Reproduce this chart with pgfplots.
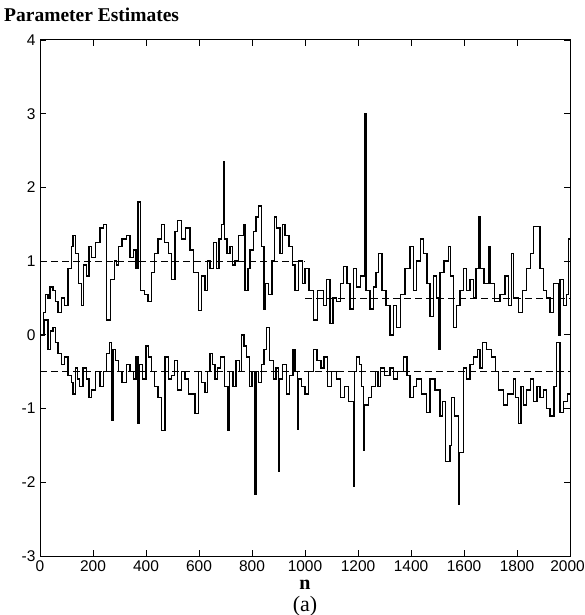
\documentclass[border=0pt]{standalone}
\usepackage{pgfplots}
\pgfplotsset{compat=1.18}
\usepackage{fontspec}
\setmainfont{Liberation Serif}
\newfontfamily\ticksans{Liberation Sans}
\begin{document}
\begin{tikzpicture}[x=1pt,y=1pt]
\useasboundingbox (-40,-59) rectangle (545,556);
\begin{axis}[
  at={(0,0)}, anchor=south west,
  scale only axis, width=530pt, height=516pt,
  xmin=0, xmax=2000, ymin=-3, ymax=4,
  xtick={0,200,...,2000},
  xticklabels={0,200,400,600,800,1000,1200,1400,1600,1800,2000\kern5pt},
  ytick={-3,-2,-1,0,1,2,3,4},
  yticklabels={-3,-2,-1,0,1,2,3,4},
  tick align=inside,
  major tick length=6pt,
  tick style={black, line width=0.8pt},
  axis line style={black, line width=1pt},
  ticklabel style={font=\ticksans\fontsize{15.5}{17}\selectfont},
  xticklabel style={yshift=-1pt},
  yticklabel style={xshift=-1pt},
  clip=true,
]
\addplot[const plot, black, line width=1.35pt] coordinates {
(0,0.0)(12,0.3)(20,0.55)(30,0.5)(38,0.65)(49,0.6)(58,0.45)(68,0.3)(80,0.5)(93,0.4)
(105,0.9)(118,1.2)(125,1.35)(133,1.1)(145,0.7)(156,0.4)(165,0.95)(175,0.8)(185,1.2)
(194,1.05)(210,1.25)(226,1.45)(240,1.5)(251,0.2)(265,0.75)(280,1.0)(288,0.95)(295,1.2)
(310,1.3)(326,1.35)(340,1.05)(352,1.15)(362,0.9)(370,1.8)(380,0.6)(395,0.55)(408,0.45)
(420,0.85)(433,1.1)(445,1.3)(459,1.5)(470,1.25)(484,1.1)(495,0.75)(509,1.4)(520,1.55)
(534,1.3)(548,1.45)(566,1.15)(580,0.85)(597,0.33)(610,0.8)(622,0.6)(632,1.0)(641,0.9)
(655,1.25)(667,0.9)(676,1.3)(686,1.5)(692,2.35)(696,1.3)(705,1.1)(717,1.2)(726,0.95)
(736,1.0)(750,1.35)(767,1.5)(774,0.6)(785,0.9)(793,1.15)(805,1.4)(815,1.6)(824,1.75)
(835,1.2)(845,0.35)(852,0.7)(862,0.55)(875,1.0)(885,1.6)(893,1.45)(905,1.1)(915,1.5)
(925,1.35)(940,1.2)(952,0.95)(962,0.6)(975,1.0)(990,0.7)(1000,0.9)(1015,0.6)(1032,0.2)
(1048,0.6)(1069,0.4)(1080,0.75)(1094,0.15)(1105,0.5)(1120,0.45)(1133,0.7)(1145,0.93)
(1158,0.7)(1170,0.35)(1182,0.9)(1195,0.65)(1210,0.8)(1226,3.0)(1230,0.6)(1245,0.35)
(1258,0.65)(1268,0.85)(1277,1.1)(1290,0.6)(1305,0.4)(1321,0.0)(1333,0.4)(1346,0.1)
(1360,0.55)(1377,0.9)(1396,1.2)(1409,0.6)(1421,1.0)(1435,1.3)(1447,1.1)(1460,0.7)
(1472,0.25)(1484,0.8)(1495,0.5)(1503,-0.2)(1510,0.85)(1525,1.0)(1541,1.2)(1550,0.8)
(1560,0.1)(1572,0.4)(1585,0.6)(1598,0.9)(1610,0.6)(1622,0.75)(1635,0.5)(1645,0.9)
(1654,1.6)(1660,0.9)(1675,0.7)(1692,1.2)(1698,0.7)(1715,0.45)(1736,0.55)(1755,0.8)
(1768,0.4)(1780,1.1)(1786,0.5)(1805,0.3)(1820,0.6)(1837,0.9)(1850,1.1)(1862,1.47)
(1887,0.9)(1900,0.6)(1912,0.5)(1925,0.3)(1937,0.7)(1956,0.0)(1962,0.75)(1975,0.4)
(1987,0.55)(1995,1.3)(2000,1.3)
};
\addplot[const plot, black, line width=1.35pt] coordinates {
(0,0.0)(15,0.2)(30,-0.2)(40,0.05)(49,0.1)(58,-0.1)(68,-0.25)(80,-0.4)(93,-0.3)(105,-0.55)
(118,-0.65)(125,-0.8)(133,-0.45)(142,-0.6)(150,-0.7)(162,-0.45)(175,-0.6)(185,-0.85)
(194,-0.75)(210,-0.5)(226,-0.7)(240,-0.5)(251,-0.25)(262,-0.1)(270,-1.16)(276,-0.2)
(285,-0.35)(295,-0.5)(310,-0.65)(326,-0.4)(340,-0.5)(352,-0.6)(362,-0.3)(370,-1.2)
(376,-0.4)(388,-0.6)(400,-0.15)(410,-0.3)(420,-0.5)(432,-0.7)(445,-0.85)(459,-1.3)
(472,-0.3)(485,-0.6)(497,-0.55)(508,-0.35)(520,-0.75)(535,-0.5)(547,-0.6)(560,-0.8)
(585,-1.07)(597,-0.5)(610,-0.65)(622,-0.78)(632,-0.5)(641,-0.25)(650,-0.4)(660,-0.6)
(670,-0.45)(680,-0.3)(695,-0.7)(710,-1.3)(716,-0.5)(728,-0.7)(740,-0.35)(752,-0.5)
(761,0.0)(770,-0.15)(780,-0.3)(790,-0.7)(800,-0.5)(811,-2.17)(815,-0.5)(825,-0.65)
(835,-0.4)(845,-0.2)(855,0.1)(865,-0.35)(880,-0.6)(890,-0.45)(899,-1.85)(903,-0.6)
(915,-0.4)(930,-0.8)(942,-0.55)(955,-0.2)(962,-0.5)(971,-1.28)(975,-0.6)(988,-0.7)
(1000,-0.8)(1012,-0.5)(1032,-0.2)(1045,-0.35)(1060,-0.45)(1072,-0.3)(1085,-0.7)
(1100,-0.5)(1120,-0.6)(1135,-0.85)(1150,-0.7)(1165,-0.9)(1183,-2.05)(1186,-0.5)
(1195,-0.3)(1205,-0.4)(1212,-0.7)(1220,-1.57)(1224,-0.95)(1240,-0.85)(1252,-0.7)
(1265,-0.5)(1275,-0.7)(1285,-0.45)(1300,-0.55)(1321,-0.45)(1333,-0.6)(1350,-0.5)
(1371,-0.3)(1385,-0.55)(1396,-0.85)(1410,-0.7)(1421,-0.6)(1440,-0.8)(1459,-1.05)
(1472,-0.6)(1490,-0.75)(1510,-1.1)(1520,-0.9)(1530,-1.72)(1547,-1.5)(1553,-0.85)
(1565,-1.1)(1578,-2.3)(1582,-1.6)(1598,-0.45)(1610,-0.6)(1622,-0.4)(1635,-0.3)
(1650,-0.2)(1660,-0.45)(1670,-0.1)(1685,-0.2)(1704,-0.3)(1718,-0.5)(1730,-0.75)
(1748,-0.95)(1765,-0.8)(1786,-0.6)(1795,-0.85)(1805,-1.2)(1815,-0.7)(1824,-0.95)
(1837,-0.75)(1850,-0.6)(1862,-0.9)(1875,-0.7)(1887,-0.85)(1900,-0.75)(1912,-1.0)
(1925,-1.1)(1940,-0.7)(1950,-0.1)(1962,-1.05)(1975,-0.9)(1990,-0.8)(2000,-0.8)
};
\addplot[black, line width=0.8pt, dash pattern=on 7pt off 4pt] coordinates {(0,1)(1000,1)};
\addplot[black, line width=0.8pt, dash pattern=on 7pt off 4pt] coordinates {(1000,0.5)(2000,0.5)};
\addplot[black, line width=0.8pt, dash pattern=on 7pt off 4pt] coordinates {(0,-0.5)(2000,-0.5)};
\end{axis}
\node[anchor=base west, font=\bfseries\fontsize{19.5}{21}\selectfont, inner sep=0pt] at (-36,534) {Parameter Estimates};
\node[anchor=base, font=\bfseries\fontsize{20}{22}\selectfont, inner sep=0pt] at (265,-33) {n};
\node[anchor=base, font=\fontsize{22}{24}\selectfont, inner sep=0pt] at (265,-55) {(a)};
\end{tikzpicture}
\end{document}
